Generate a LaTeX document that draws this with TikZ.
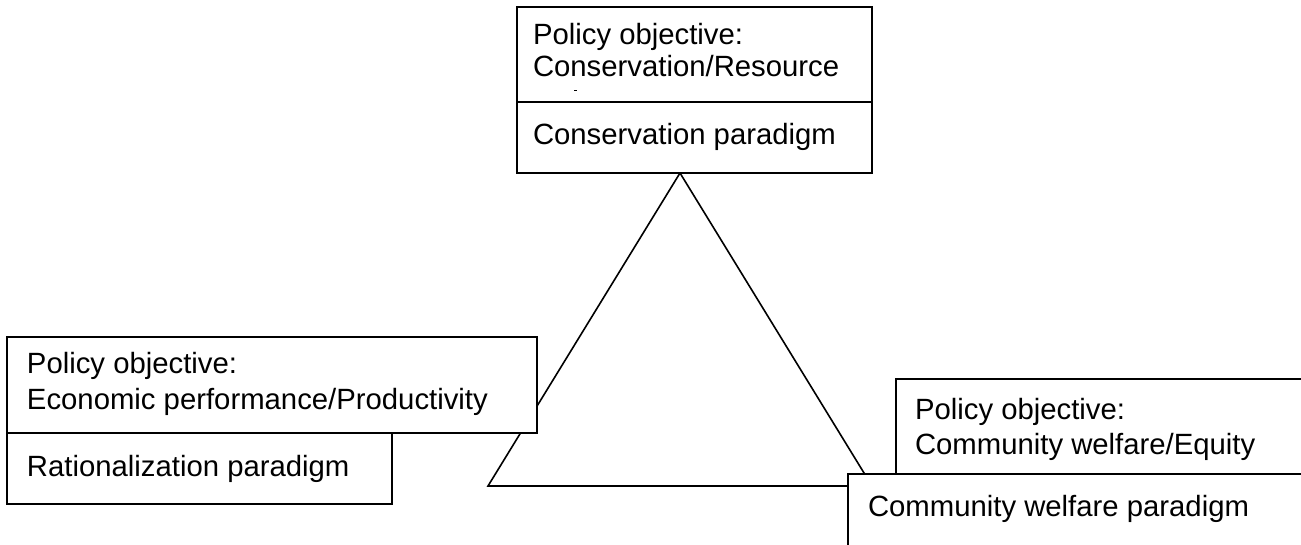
\documentclass[tikz,border=0pt]{standalone}
\usepackage{fontspec}
\setmainfont{Liberation Sans}
\begin{document}
\begin{tikzpicture}[x=1pt,y=-1pt,
  box/.style={draw=black,line width=2pt,fill=white,rectangle,inner sep=0pt,outer sep=0pt,anchor=north west},
  lbl/.style={anchor=base west,inner sep=0pt,outer sep=0pt,font=\fontsize{29.3}{33}\selectfont},
  tri/.style={draw=black,line width=1.6pt,line join=miter}]
\useasboundingbox (0,0) rectangle (1301,545);
\clip (0,0) rectangle (1301,545);
% triangle
\coordinate (apex) at (680,173);
\coordinate (bl) at (488,486);
\coordinate (br) at (872,486);
\draw[tri] (apex) -- (bl) -- (br) -- cycle;
% top boxes
\node[box,minimum width=355pt,minimum height=95pt] (topobj) at (517,7) {};
\node[box,minimum width=355pt,minimum height=71pt] (topparad) at (517,102) {};
\node[lbl] (t1) at (533,45) {Policy objective:};
\node[lbl] (t2) at (533,77) {Conservation/Resource};
\fill (574,90) rectangle (577,91.5);
\node[lbl] (t3) at (533,145) {Conservation paradigm};
% left boxes
\node[box,minimum width=530pt,minimum height=96pt] (leftobj) at (7,337) {};
\node[box,minimum width=385pt,minimum height=71pt] (leftparad) at (7,433) {};
\node[lbl] (l1) at (27,373) {Policy objective:};
\node[lbl] (l2) at (27,409) {Economic performance/Productivity};
\node[lbl] (l3) at (27,476) {Rationalization paradigm};
% right boxes
\node[box,minimum width=450pt,minimum height=96pt] (rightobj) at (896,379) {};
\node[box,minimum width=500pt,minimum height=100pt] (rightparad) at (848,474) {};
\node[lbl] (r1) at (915,419) {Policy objective:};
\node[lbl] (r2) at (915,454) {Community welfare/Equity};
\node[lbl] (r3) at (868,516) {Community welfare paradigm};
\end{tikzpicture}
\end{document}
